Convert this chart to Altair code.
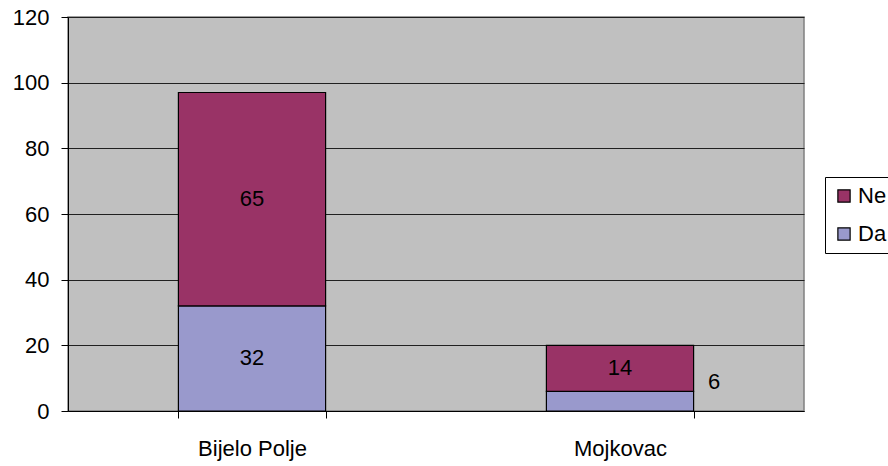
import altair as alt
import pandas as pd

# Survey answers per municipality
categories = ["Bijelo Polje", "Mojkovac"]
da_values = [32, 6]
ne_values = [65, 14]
series_order = ["Ne", "Da"]

rows = []
for cat, da, ne in zip(categories, da_values, ne_values):
    rows.append({"grad": cat, "odgovor": "Da", "broj": da, "red": 0})
    rows.append({"grad": cat, "odgovor": "Ne", "broj": ne, "red": 1})
df = pd.DataFrame(rows)

FONT = "Liberation Sans"
FS = 22

x_enc = alt.X(
    "grad:N",
    sort=categories,
    title=None,
    scale=alt.Scale(paddingInner=0.6, paddingOuter=0.3),
    axis=alt.Axis(
        labelAngle=0, labelFontSize=FS, labelFont=FONT, labelColor="black",
        labelPadding=20, tickBand="extent", tickSize=7, tickColor="black",
        domainColor="black", grid=False,
    ),
)

bars = alt.Chart(df).mark_bar(stroke="black", strokeWidth=1.2).encode(
    x=x_enc,
    y=alt.Y(
        "sum(broj):Q",
        stack="zero",
        title=None,
        scale=alt.Scale(domain=[0, 120], nice=False),
        axis=alt.Axis(
            values=list(range(0, 121, 20)), labelFontSize=FS, labelFont=FONT,
            labelColor="black", labelPadding=12, tickSize=7, tickColor="black",
            domainColor="black", gridColor="#202020", gridWidth=1, gridOpacity=1,
        ),
    ),
    color=alt.Color(
        "odgovor:N",
        sort=series_order,
        scale=alt.Scale(domain=series_order, range=["#993366", "#9999CC"]),
        legend=alt.Legend(
            title=None, orient="none", legendX=757, legendY=160,
            symbolType="square", symbolSize=150, symbolStrokeColor="black",
            symbolStrokeWidth=1.2, symbolOpacity=1,
            labelFontSize=FS, labelFont=FONT, labelColor="black",
            rowPadding=16, padding=8, strokeColor="black", fillColor="white",
            labelOffset=3,
        ),
    ),
    order=alt.Order("red:Q"),
)

stacked = alt.Chart(df).transform_stack(
    stack="broj", as_=["y0", "y1"], groupby=["grad"], sort=[alt.SortField("red")]
).transform_calculate(mid="(datum.y0 + datum.y1) / 2")

inside_labels = stacked.transform_filter("datum.broj >= 10").mark_text(
    fontSize=FS, font=FONT, color="black", baseline="middle"
).encode(
    x=alt.X("grad:N", sort=categories),
    y="mid:Q",
    text="broj:Q",
)

outside_labels = stacked.transform_filter("datum.broj < 10").mark_text(
    fontSize=FS, font=FONT, color="black", baseline="middle", dx=94, dy=-9
).encode(
    x=alt.X("grad:N", sort=categories),
    y="y1:Q",
    text="broj:Q",
)

chart = (
    alt.layer(bars, inside_labels, outside_labels)
    .properties(
        width=736, height=394,
        autosize=alt.AutoSizeParams(type="none"),
        padding={"left": 68, "top": 17, "right": 84, "bottom": 55},
        background="white",
    )
    .configure_view(fill="#C0C0C0", stroke="#808080", strokeWidth=1.5)
)

chart.save("out.html", embed_options={"renderer": "svg", "actions": False})
